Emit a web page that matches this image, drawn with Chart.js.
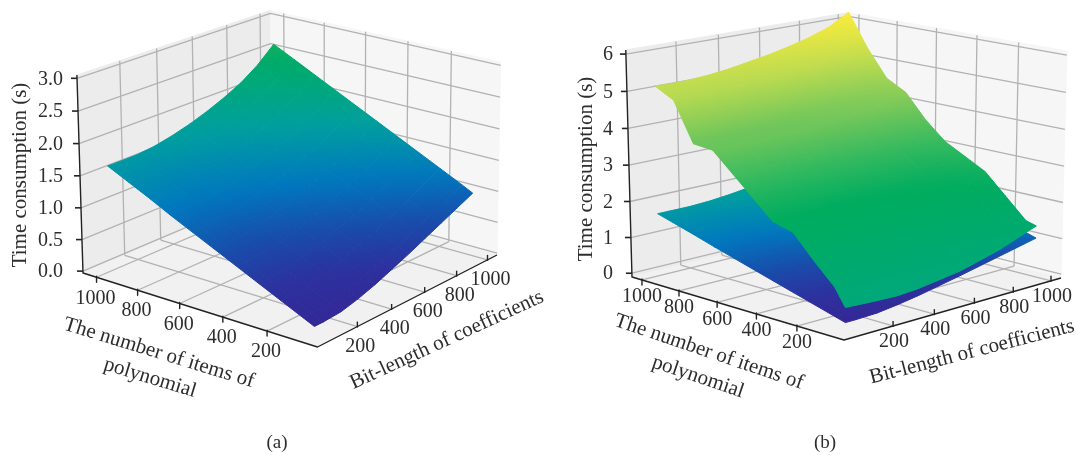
<!DOCTYPE html>
<html><head><meta charset="utf-8">
<style>html,body{margin:0;padding:0;background:#fff}canvas{display:block}</style>
<script src="https://cdn.jsdelivr.net/npm/chart.js@4"></script></head>
<body><canvas id="c" width="1076" height="455"></canvas>
<script>
// ---- data ----
const itemCounts = [50,100,200,300,400,500,600,700,800,900,1000];
const bitLengths = [50,100,200,300,400,500,600,700,800,900,1000];
const axisTicks = [200,400,600,800,1000];
const zTicksA = [0,0.5,1,1.5,2,2.5,3];
const zTicksB = [0,1,2,3,4,5,6];
// rows: bit-length, columns: number of items
const timeLower = [
[.10,.18,.34,.50,.66,.82,.98,1.14,1.31,1.47,1.63],
[.10,.18,.34,.50,.66,.82,.98,1.14,1.31,1.47,1.63],
[.12,.20,.36,.52,.67,.83,.99,1.15,1.31,1.47,1.63],
[.19,.27,.42,.58,.73,.89,1.04,1.20,1.35,1.51,1.66],
[.28,.36,.51,.66,.81,.96,1.12,1.27,1.42,1.57,1.72],
[.39,.46,.61,.76,.91,1.06,1.20,1.35,1.50,1.65,1.80],
[.50,.57,.72,.87,1.02,1.16,1.31,1.46,1.61,1.75,1.90],
[.62,.69,.84,.99,1.14,1.28,1.43,1.58,1.73,1.87,2.02],
[.74,.81,.96,1.11,1.26,1.41,1.56,1.71,1.86,2.01,2.16],
[.86,.94,1.10,1.25,1.41,1.57,1.72,1.88,2.04,2.19,2.35],
[.98,1.07,1.24,1.41,1.58,1.75,1.92,2.09,2.26,2.43,2.60]];
const timeUpper = [
[.50,.95,1.50,2.10,2.25,2.75,3.25,3.75,3.80,4.85,5.13],
[.48,.95,1.52,2.08,2.27,2.72,3.27,3.73,3.83,4.83,5.10],
[.45,.93,1.50,2.12,2.24,2.78,3.25,3.78,3.80,4.88,5.11],
[.43,.97,1.54,2.10,2.30,2.75,3.29,3.76,3.86,4.86,5.15],
[.47,.98,1.53,2.15,2.29,2.81,3.27,3.82,3.85,4.93,5.22],
[.55,1.02,1.59,2.15,2.35,2.80,3.33,3.80,3.93,4.95,5.32],
[.63,1.05,1.60,2.21,2.37,2.85,3.32,3.89,3.95,5.02,5.42],
[.77,1.10,1.67,2.23,2.46,2.86,3.40,3.90,4.06,5.06,5.55],
[.92,1.15,1.71,2.30,2.49,2.93,3.41,3.99,4.10,5.12,5.70],
[1.12,1.23,1.79,2.33,2.60,2.96,3.49,4.05,4.25,5.20,5.90],
[1.32,1.40,1.95,2.50,2.80,3.10,3.60,4.25,4.55,5.30,6.22]];
const titleZ = 'Time consumption (s)';
const titleX = ['The number of items of','polynomial'];
const titleY = 'Bit-length of coefficients';

// ---- colours ----
const mapStops = [[0,[52,38,148]],[.12,[45,48,158]],[.22,[25,75,170]],[.35,[0,120,190]],[.5,[0,158,160]],
 [.62,[0,168,125]],[.75,[0,172,95]],[.8,[50,185,95]],[.86,[120,200,90]],[.93,[190,220,80]],[1,[250,235,60]]];
function cmap(c){c=Math.max(0,Math.min(1,c));
 for(let i=1;i<mapStops.length;i++){const [a,ca]=mapStops[i-1],[b,cb]=mapStops[i];
  if(c<=b){const t=(c-a)/(b-a);return `rgb(${ca.map((v,k)=>Math.round(v+(cb[k]-v)*t)).join(',')})`;}}
 return 'rgb(250,235,60)';}
const lowerColour = z=>cmap(z/3.4);
const upperColour = z=>cmap(.62+(z-.3)*.0655);

// ---- camera of each panel ----
const panelA = {O:[317.5,347],PX:[83,273],PY:[497,255],PZ:[317,136.7],w:[.07,.1,-.025],
 xLim:[-22,1067],yLim:[-24,1063],zLim:[-.03,3.05],zTicks:zTicksA,zFmt:v=>v.toFixed(1),zLabelX:63,tickLen:5,
 xOff:[-1,21],yOff:[3,20],
 titleZ:[20,175],titleX:[[159,353],[150,378]],titleXAngle:17,titleY:[447,340],titleYAngle:-24.7,cap:['(a)',277,443]};
const panelB = {O:[844,340],PX:[632,277],PY:[1061,278],PZ:[843.8,95],w:[.085,.085,-.03],
 xLim:[-25,1055],yLim:[-30,1054],zLim:[-.106,6.11],zTicks:zTicksB,zFmt:v=>String(v),zLabelX:613,tickLen:5,
 xOff:[0,17],yOff:[1,16],
 titleZ:[586,169],titleX:[[709,352],[698,377]],titleXAngle:18.7,titleY:[972,352],titleYAngle:-14.4,cap:['(b)',825,443]};

function project(p,xv,yv,zv){
 const fx=(xv-p.xLim[0])/(p.xLim[1]-p.xLim[0]),fy=(yv-p.yLim[0])/(p.yLim[1]-p.yLim[0]),fz=(zv-p.zLim[0])/(p.zLim[1]-p.zLim[0]);
 const [wx,wy,wz]=p.w,den=1+wx*fx+wy*fy+wz*fz,k=1-fx-fy-fz;
 const f=i=>(k*p.O[i]+fx*(1+wx)*p.PX[i]+fy*(1+wy)*p.PY[i]+fz*(1+wz)*p.PZ[i])/den;
 return {x:f(0),y:f(1)};
}

const datasets=[];let seq=0;
function addPoly(points,fillCol,border,width){
 datasets.push({data:points,showLine:true,pointRadius:0,pointHoverRadius:0,tension:0,clip:false,
  fill:fillCol?'shape':false,backgroundColor:fillCol||'transparent',borderColor:border||'transparent',
  borderWidth:width==null?1:width,borderJoinStyle:'round',order:-(seq++)});
}
function addLine(points,col,width){addPoly(points,null,col,width);}

function gradientFor(pts,zs,colour){
 // screen-space plane fit of z over a cell, used as a linear gradient
 return function(c){
  const sx=c.chart.scales.x,sy=c.chart.scales.y,g=c.chart.ctx;
  const P=pts.map(q=>[sx.getPixelForValue(q.x),sy.getPixelForValue(q.y)]);
  const n=4,mz=zs.reduce((s,v)=>s+v,0)/n;
  if(!P.every(q=>isFinite(q[0])&&isFinite(q[1]))) return colour(mz);
  const mx=P.reduce((s,q)=>s+q[0],0)/n,my=P.reduce((s,q)=>s+q[1],0)/n;
  let xx=0,xy=0,yy=0,xz=0,yz=0;
  P.forEach((q,i)=>{const a=q[0]-mx,b=q[1]-my,d=zs[i]-mz;xx+=a*a;xy+=a*b;yy+=b*b;xz+=a*d;yz+=b*d;});
  const det=xx*yy-xy*xy;
  const lo=Math.min(...zs),hi=Math.max(...zs);
  if(Math.abs(det)<1e-6||hi-lo<1e-3) return colour(mz);
  const ga=(xz*yy-yz*xy)/det,gb=(yz*xx-xz*xy)/det,m=ga*ga+gb*gb;
  if(m<1e-9) return colour(mz);
  const t0=(lo-mz)/m,t1=(hi-mz)/m;
  const grad=g.createLinearGradient(mx+ga*t0,my+gb*t0,mx+ga*t1,my+gb*t1);
  grad.addColorStop(0,colour(lo));grad.addColorStop(.5,colour((lo+hi)/2));grad.addColorStop(1,colour(hi));
  return grad;
 };
}
function addSurface(p,grid,colour){
 const cells=[];
 for(let j=0;j<bitLengths.length-1;j++)for(let i=0;i<itemCounts.length-1;i++)cells.push([i,j]);
 cells.sort((a,b)=>(b[0]+b[1])-(a[0]+a[1]));
 cells.forEach(([i,j])=>{
  const idx=[[i,j],[i+1,j],[i+1,j+1],[i,j+1]];
  const zs=idx.map(([a,b])=>grid[b][a]);
  const pts=idx.map(([a,b])=>project(p,itemCounts[a],bitLengths[b],grid[b][a]));
  const f=gradientFor(pts,zs,colour);
  addPoly([...pts,pts[0]],f,f,1);
 });
}
function addFrame(p){
 const [x0,x1]=p.xLim,[y0,y1]=p.yLim,[z0,z1]=p.zLim,G='rgb(178,178,178)';
 const q=(a,b,c)=>project(p,a,b,c);
 addPoly([q(x1,y0,z0),q(x1,y1,z0),q(x1,y1,z1),q(x1,y0,z1),q(x1,y0,z0)],'rgb(236,236,236)','rgb(236,236,236)',1);
 addPoly([q(x1,y1,z0),q(x0,y1,z0),q(x0,y1,z1),q(x1,y1,z1),q(x1,y1,z0)],'rgb(246,246,246)','rgb(246,246,246)',1);
 addPoly([q(x0,y0,z0),q(x1,y0,z0),q(x1,y1,z0),q(x0,y1,z0),q(x0,y0,z0)],'rgb(241,241,241)','rgb(241,241,241)',1);
 axisTicks.forEach(v=>{
  addLine([q(x1,v,z0),q(x1,v,z1)],G,1.3);
  addLine([q(v,y1,z0),q(v,y1,z1)],G,1.3);
  addLine([q(v,y0,z0),q(v,y1,z0)],G,1.3);
  addLine([q(x0,v,z0),q(x1,v,z0)],G,1.3);
 });
 p.zTicks.forEach(v=>{addLine([q(x1,y0,v),q(x1,y1,v),q(x0,y1,v)],G,1.3);});
}
function addAxes(p){
 const [x0,x1]=p.xLim,[y0,y1]=p.yLim,[z0,z1]=p.zLim,K='rgb(35,35,35)';
 const q=(a,b,c)=>project(p,a,b,c);
 addLine([q(x1,y0,z1),q(x1,y0,z0),q(x0,y0,z0),q(x0,y1,z0)],K,1.4);
 axisTicks.forEach(v=>{
  const a=q(v,y0,z0),b=q(x0,v,z0);
  addLine([{x:a.x,y:a.y-1},{x:a.x,y:a.y+p.tickLen}],K,1.4);
  addLine([{x:b.x,y:b.y+1},{x:b.x,y:b.y-p.tickLen}],K,1.4);
 });
 p.zTicks.forEach(v=>{const a=q(x1,y0,v);addLine([{x:a.x,y:a.y},{x:a.x-6,y:a.y}],K,1.6);});
}
addFrame(panelA);addSurface(panelA,timeLower,lowerColour);addAxes(panelA);
addFrame(panelB);addSurface(panelB,timeLower,lowerColour);addSurface(panelB,timeUpper,upperColour);addAxes(panelB);

const FONT='"Liberation Serif", serif',TXT='rgb(45,45,45)';
const textPlugin={id:'axisText',afterDraw(chart){
 const g=chart.ctx,sx=chart.scales.x,sy=chart.scales.y;
 const put=(t,x,y,a,al)=>{g.save();g.translate(sx.getPixelForValue(x),sy.getPixelForValue(y));g.rotate((a||0)*Math.PI/180);
  g.textAlign=al||'center';g.textBaseline='middle';g.fillText(t,0,0);g.restore();};
 g.save();g.fillStyle=TXT;
 [panelA,panelB].forEach(p=>{
  const [x0,x1]=p.xLim,[y0,y1]=p.yLim,z0=p.zLim[0];
  g.font='20px '+FONT;
  axisTicks.forEach(v=>{
   const a=project(p,v,y0,z0),b=project(p,x0,v,z0);
   put(String(v),a.x+p.xOff[0],a.y+p.xOff[1]);
   put(String(v),b.x+p.yOff[0],b.y+p.yOff[1]);
  });
  p.zTicks.forEach(v=>{const a=project(p,x1,y0,v);put(p.zFmt(v),p.zLabelX,a.y+1,0,'right');});
  g.font='21px '+FONT;
  put(titleZ,p.titleZ[0],p.titleZ[1],-90);
  titleX.forEach((t,i)=>put(t,p.titleX[i][0],p.titleX[i][1],p.titleXAngle));
  put(titleY,p.titleY[0],p.titleY[1],p.titleYAngle);
  g.font='19px '+FONT;
  put(p.cap[0],p.cap[1],p.cap[2]);
 });
 g.restore();
}};
new Chart(document.getElementById('c'),{type:'scatter',data:{datasets},plugins:[textPlugin],options:{
 responsive:false,animation:false,events:[],
 layout:{padding:0},
 plugins:{legend:{display:false},tooltip:{enabled:false},title:{display:false}},
 scales:{x:{type:'linear',min:0,max:1076,display:false},y:{type:'linear',min:0,max:455,reverse:true,display:false}}
}});
</script></body></html>
